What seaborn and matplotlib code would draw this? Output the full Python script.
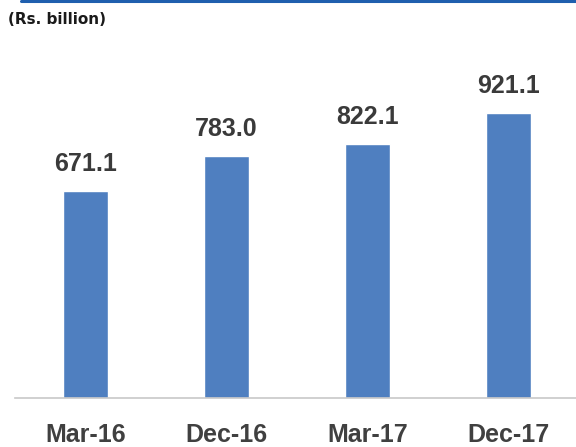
import matplotlib
matplotlib.use("Agg")
import matplotlib.pyplot as plt
import seaborn as sns
import pandas as pd

# Outstanding amounts by quarter-end, Rs. billion
periods = ["Mar-16", "Dec-16", "Mar-17", "Dec-17"]
amounts = [671.1, 783.0, 822.1, 921.1]
value_labels = ["671.1", "783.0", "822.1", "921.1"]
unit_note = "(Rs. billion)"

df = pd.DataFrame({"period": periods, "amount": amounts})

sns.set_theme(style="white")
plt.rcParams["font.family"] = ["DejaVu Sans"]

W, H, DPI = 576, 447, 100
fig = plt.figure(figsize=(W / DPI, H / DPI), dpi=DPI)
fig.patch.set_facecolor("white")

ax_left, ax_bottom, ax_top = 15, 398, 40
ax = fig.add_axes([ax_left / W, (H - ax_bottom) / H, (W - ax_left) / W, (ax_bottom - ax_top) / H])

bar_color = "#4f7fc0"
sns.barplot(data=df, x="period", y="amount", color=bar_color, saturation=1,
            width=0.32, ax=ax)

ax.set_ylim(0, 1158)
ax.set_xlim(-0.5, 3.5 - 3 / 141)
ax.set_xlabel("")
ax.set_ylabel("")
ax.set_yticks([])
for side in ("top", "right", "left"):
    ax.spines[side].set_visible(False)
ax.spines["bottom"].set_color("#c8c8c8")
ax.spines["bottom"].set_linewidth(1.2)

ax.tick_params(axis="x", length=0, pad=18, colors="#404040")
for lbl in ax.get_xticklabels():
    lbl.set_fontfamily("Liberation Sans")
    lbl.set_fontweight("bold")
    lbl.set_fontsize(18)
    lbl.set_color("#404040")

# value labels above the bars
for i, (v, txt) in enumerate(zip(amounts, value_labels)):
    ax.annotate(txt, xy=(i, v), xytext=(0, 20), textcoords="offset pixels",
                ha="center", va="baseline", fontsize=18, fontweight="bold",
                family="Liberation Sans", color="#3a3a3a")

# unit note and header rule
fig.text(8 / W, 1 - 19 / H, unit_note, ha="left", va="center",
         fontsize=11, fontweight="bold", color="#1a1a1a", family="DejaVu Sans")
fig.add_artist(plt.Line2D([21 / W, 1.0], [1 - 1 / H, 1 - 1 / H],
                          transform=fig.transFigure, color="#1f5fae", linewidth=2.2))

fig.savefig("out.png", dpi=DPI)
